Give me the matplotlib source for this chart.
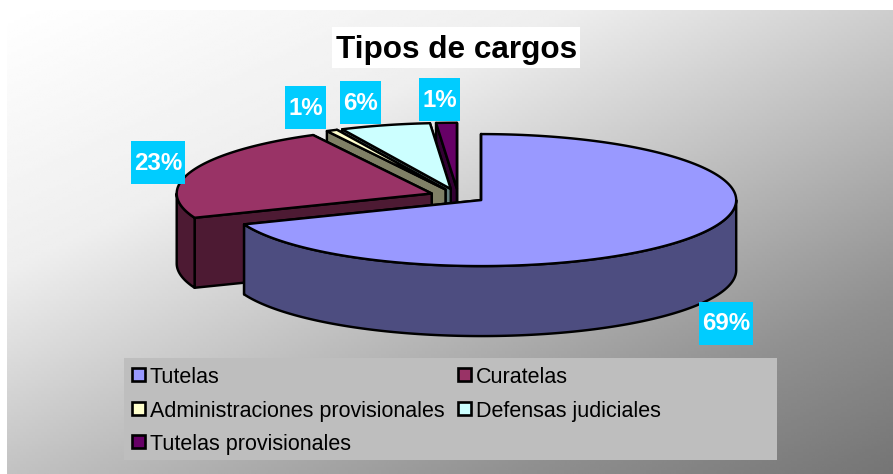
"""
Tipos de cargos: torta 3D con porciones separadas
"""
import numpy as np
import matplotlib
matplotlib.use('Agg')
import matplotlib.pyplot as plt
from matplotlib.patches import Polygon, Rectangle

categories = ['Tutelas', 'Curatelas', 'Administraciones provisionales',
              'Defensas judiciales', 'Tutelas provisionales']
values = [69.0, 23.3, 0.7, 5.7, 1.3]

top_colors = ['#9999FF', '#993366', '#FFFFCC', '#CCFFFF', '#660066']
side_colors = ['#4D4D80', '#4D1A33', '#808066', '#668080', '#330033']

# centro de cada etiqueta en píxeles
label_pos = [(726, 323.5), (158, 162.5), (305.5, 107.5), (360.5, 102.5), (439.5, 99.5)]

W, H = 893, 474
CX, CY = 458, 196      # centro de la torta antes de separar
RX, RY = 255, 66       # semiejes
DEPTH = 70
EXPLODE = 0.11
LW = 1.75

plt.rcParams['font.family'] = ['Liberation Sans', 'DejaVu Sans']

fig = plt.figure(figsize=(W / 100, H / 100), dpi=100)
ax = fig.add_axes([0, 0, 1, 1])
ax.set_xlim(0, W)
ax.set_ylim(H, 0)
ax.axis('off')

# fondo degradado en diagonal
xx, yy = np.meshgrid(np.linspace(7, W, 300), np.linspace(10, H, 160))
t = 0.47 * (xx - 7) / (W - 7) + 0.53 * (yy - 10) / (H - 10)
shade = np.interp(t, [0, 0.3, 0.5, 0.8, 1], [255, 238, 200, 144, 117])
ax.imshow(shade, cmap='gray', vmin=0, vmax=255, extent=(7, W, H, 10),
          aspect='auto', zorder=0, interpolation='bilinear')
ax.set_xlim(0, W)
ax.set_ylim(H, 0)


def rim(apex, a0, a1):
    """puntos del borde elíptico, ángulos en grados desde las 12 en sentido horario"""
    t = np.radians(np.linspace(a0, a1, max(int(abs(a1 - a0)) * 2, 2)))
    return np.column_stack([apex[0] + RX * np.sin(t), apex[1] - RY * np.cos(t)])


def add_poly(pts, color, z):
    ax.add_patch(Polygon(pts, closed=True, facecolor=color, edgecolor='black',
                         linewidth=LW, joinstyle='round', zorder=z))


edges = np.cumsum([0] + values) / sum(values) * 360
z_order = {i: z for z, i in enumerate([4, 3, 2, 1, 0])}

for i in [4, 3, 2, 1, 0]:
    a0, a1 = edges[i], edges[i + 1]
    mid = np.radians((a0 + a1) / 2)
    apex = (CX + EXPLODE * RX * np.sin(mid), CY - EXPLODE * RY * np.cos(mid))
    z = 2 + z_order[i]
    down = np.array([0, DEPTH])
    # paredes radiales: primero la final, luego la inicial
    for ang in (a1, a0):
        p = rim(apex, ang, ang)[0]
        add_poly([apex, p, p + down, np.array(apex) + down], side_colors[i], z)
    # pared exterior, solo la parte delantera
    f0, f1 = max(a0, 90), min(a1, 270)
    if f1 > f0:
        arc = rim(apex, f0, f1)
        add_poly(np.vstack([arc, arc[::-1] + down]), side_colors[i], z)
    # cara superior
    add_poly(np.vstack([[apex], rim(apex, a0, a1)]), top_colors[i], z)

# etiquetas de porcentaje
for v, (lx, ly) in zip(values, label_pos):
    txt = f'{v / sum(values) * 100:.0f}%'
    bw = 54 if len(txt) > 2 else 41
    ax.add_patch(Rectangle((lx - bw / 2, ly - 21.5), bw, 43, facecolor='#00CCFF',
                           edgecolor='none', zorder=10))
    ax.text(lx, ly + 7, txt, color='white', fontsize=17.3, fontweight='bold',
            ha='center', va='baseline', zorder=11)

# título
ax.add_patch(Rectangle((332, 27), 248, 41, facecolor='white', edgecolor='none', zorder=10))
ax.text(456.7, 57.5, 'Tipos de cargos', fontsize=22.7, fontweight='bold', color='black',
        ha='center', va='baseline', zorder=11)

# leyenda
ax.add_patch(Rectangle((124, 358), 653, 102, facecolor='#BEBEBE', edgecolor='none', zorder=10))
for i, name in enumerate(categories):
    col, row = i % 2, i // 2
    mx = [132, 458][col]
    my = 375 + row * 33.7
    ax.add_patch(Rectangle((mx, my - 7), 13, 13, facecolor=top_colors[i], edgecolor='black',
                           linewidth=1.9, zorder=11))
    ax.text(mx + 18, my + 7.8, name, fontsize=15.5, color='black', ha='left', va='baseline',
            zorder=11)

fig.savefig('out.png', dpi=100)
plt.close(fig)
